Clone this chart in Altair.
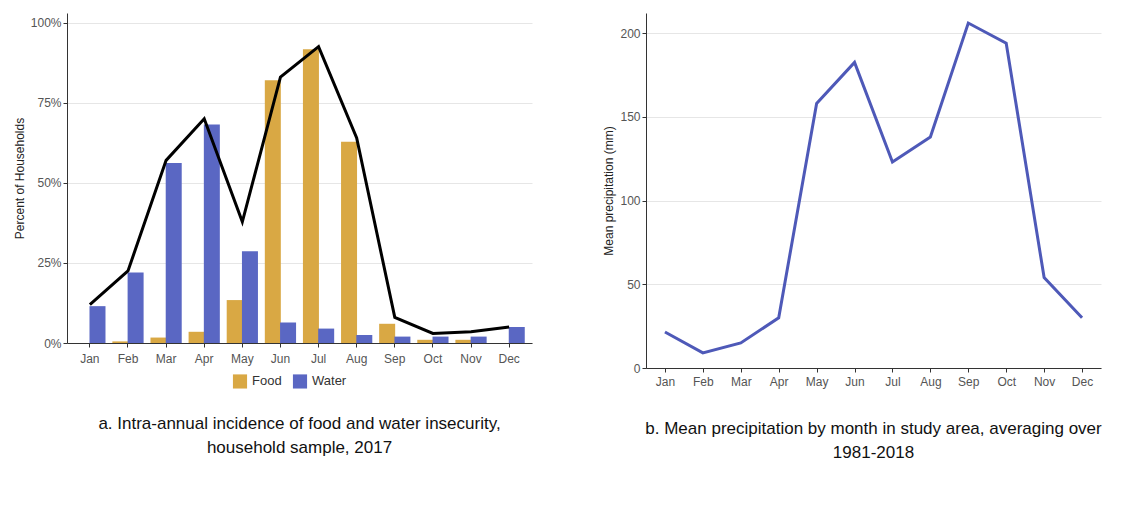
import pandas as pd
import altair as alt

months = ['Jan', 'Feb', 'Mar', 'Apr', 'May', 'Jun', 'Jul', 'Aug', 'Sep', 'Oct', 'Nov', 'Dec']
food = [0.0, 0.005, 0.017, 0.035, 0.134, 0.82, 0.917, 0.628, 0.06, 0.01, 0.01, 0.0]
water = [0.115, 0.22, 0.562, 0.682, 0.286, 0.064, 0.045, 0.025, 0.02, 0.02, 0.02, 0.05]
either = [0.12, 0.225, 0.57, 0.70, 0.378, 0.83, 0.925, 0.64, 0.08, 0.03, 0.035, 0.05]
precip = [21.5, 9, 15, 30, 158, 182.5, 123, 138, 206, 194, 54, 30]

bars = pd.DataFrame({
    'Month': months * 2,
    'Type': ['Food'] * 12 + ['Water'] * 12,
    'Share': food + water,
})
line_df = pd.DataFrame({'Month': months, 'Share': either})
rain = pd.DataFrame({'Month': months, 'Precip': precip})

font = 'Liberation Sans'
x_enc = alt.X('Month:N', sort=months, title=None,
              axis=alt.Axis(labelAngle=0, labelColor='#555', labelFontSize=12,
                            domainColor='#333', tickColor='#333', labelPadding=6))

bar_layer = alt.Chart(bars).mark_bar(size=16).encode(
    x=x_enc,
    xOffset=alt.XOffset('Type:N', sort=['Food', 'Water']),
    y=alt.Y('Share:Q', title='Percent of Households',
            scale=alt.Scale(domain=[0, 1.03], nice=False),
            axis=alt.Axis(format='%', values=[0, 0.25, 0.5, 0.75, 1], labelColor='#555',
                          labelFontSize=12, titleFontWeight='normal', titleFontSize=12,
                          titleColor='#222', domainColor='#333', tickColor='#333',
                          gridColor='#e6e6e6')),
    color=alt.Color('Type:N', scale=alt.Scale(domain=['Food', 'Water'], range=['#D9A844', '#5A67C3']),
                    legend=alt.Legend(orient='none', legendX=165, legendY=360, direction='horizontal',
                                      title=None, labelFontSize=13,
                                      symbolType='square', symbolSize=200, labelColor='#333')),
)
line_layer = alt.Chart(line_df).mark_line(color='black', strokeWidth=3).encode(
    x=alt.X('Month:N', sort=months), y='Share:Q')

left = alt.layer(bar_layer, line_layer).properties(
    width=465, height=330,
    title=alt.TitleParams(['a. Intra-annual incidence of food and water insecurity,',
                           'household sample, 2017'], orient='bottom', fontSize=17,
                          fontWeight='normal', color='#111', offset=52, lineHeight=24))

right = alt.Chart(rain).mark_line(color='#4E59B8', strokeWidth=3).encode(
    x=alt.X('Month:N', sort=months, title=None,
            axis=alt.Axis(labelAngle=0, labelColor='#555', labelFontSize=12,
                          domainColor='#333', tickColor='#333', labelPadding=4)),
    y=alt.Y('Precip:Q', title='Mean precipitation (mm)',
            scale=alt.Scale(domain=[0, 212], nice=False),
            axis=alt.Axis(values=[0, 50, 100, 150, 200], labelColor='#555', labelFontSize=12,
                          titleFontWeight='normal', titleFontSize=12, titleColor='#222',
                          domainColor='#333', tickColor='#333', gridColor='#e6e6e6')),
).properties(
    width=455, height=355,
    title=alt.TitleParams(['b. Mean precipitation by month in study area, averaging over',
                           '1981-2018'], orient='bottom', fontSize=17,
                          fontWeight='normal', color='#111', offset=34, lineHeight=24))

chart = alt.hconcat(left, right, spacing=70).configure(font=font).configure_view(
    stroke=None).configure_axisY(tickSize=4).configure_axisX(tickSize=4)

chart.save("out.html", embed_options={"renderer": "svg", "actions": False})
